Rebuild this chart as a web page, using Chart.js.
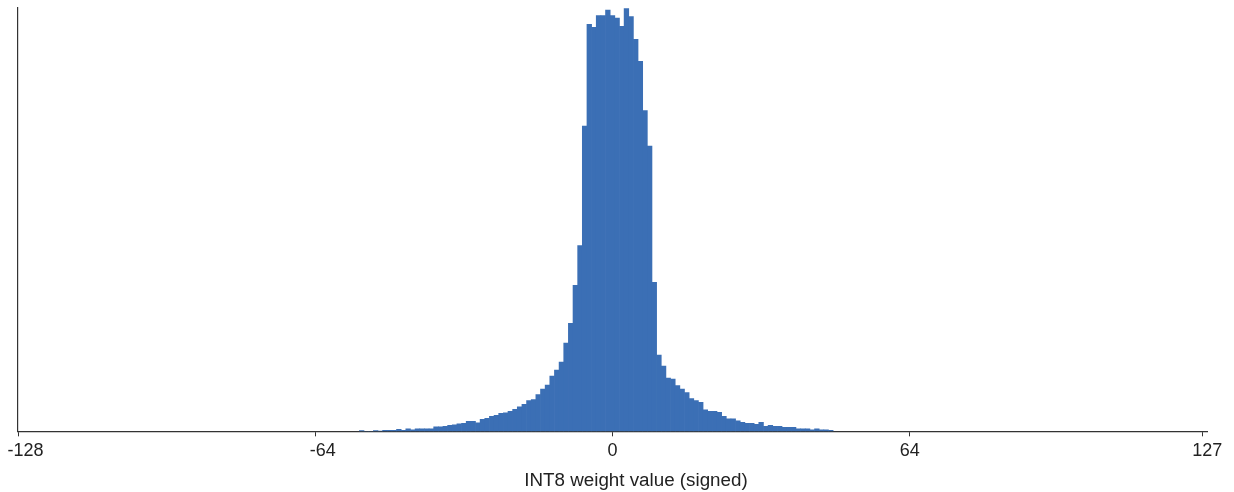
<!DOCTYPE html>
<html>
<head>
<meta charset="utf-8">
<script src="https://cdn.jsdelivr.net/npm/chart.js@4/dist/chart.umd.min.js"></script>
<style>
  html, body { margin: 0; padding: 0; background: #fff; }
  #wrap { width: 1234px; height: 492px; }
</style>
</head>
<body>
<div id="wrap"><canvas id="hist"></canvas></div>
<script>
// histogram of int8 weights, one bin per integer value
const binStart = -54;
const binCounts = [
  0.8, 0, 0, 0.8, 0.3, 1, 1, 1, 2, 1,              // -54 .. -45
  2.5, 1.5, 2.5, 2.5, 2.5, 2.5, 4.5, 4.5, 5, 6,     // -44 .. -35
  6.5, 7.5, 8, 10, 10, 8.5, 12, 13, 15, 16,         // -34 .. -25
  18, 18.5, 20, 22, 24.5, 27, 31, 32, 37, 42.5,     // -24 .. -15
  46.5, 55.5, 61.5, 69.5, 88.5, 108.5, 146.5, 186.5, 306.5, 408.5, // -14 .. -5
  405.5, 417.5, 417.5, 423, 417.5, 415, 406.5, 424.5, 416.5, 393.5, // -4 .. 5
  371.5, 322, 286.5, 149.5, 76.5, 65.5, 53.5, 52.5, 46, 42.5,       // 6 .. 15
  39, 33, 31, 29, 21.5, 20, 20, 19, 15, 12.5,       // 16 .. 25
  12.5, 10.5, 9, 8, 8, 7, 9, 5, 6, 5,               // 26 .. 35
  5, 4, 4, 4, 2.5, 2.5, 2.5, 1.5, 2.5, 1.5,         // 36 .. 45
  1.5, 1                                            // 46 .. 47
];
const tickValues = [-128, -64, 0, 64, 127];
// leading spaces nudge these labels right, like in the original figure
const tickLabels = ['   -128', '   -64', '0', '64', '  127'];
const xTitle = '         INT8 weight value (signed)';

const axisColor = '#333333';
const textColor = '#222222';
const font = 'Liberation Sans, Arial, sans-serif';

const points = binCounts.map((c, i) => ({ x: binStart + i, y: c }));

new Chart(document.getElementById('hist'), {
  type: 'bar',
  data: {
    datasets: [{
      data: points,
      backgroundColor: '#3b6fb5',
      borderWidth: 0,
      barPercentage: 1,
      categoryPercentage: 1
    }]
  },
  options: {
    responsive: true,
    maintainAspectRatio: false,
    animation: false,
    layout: { padding: { left: 18, right: 27, top: 8, bottom: 0 } },
    plugins: { legend: { display: false }, tooltip: { enabled: false } },
    scales: {
      x: {
        type: 'linear',
        offset: false,
        min: -128,
        max: 128,
        afterBuildTicks: s => { s.ticks = tickValues.map(v => ({ value: v })); },
        afterFit: s => { s.paddingLeft = 0; s.paddingRight = 0; },
        grid: { display: true, offset: false, drawOnChartArea: false, drawTicks: true, tickLength: 5, color: axisColor, lineWidth: 1 },
        border: { display: true, color: axisColor, width: 1.2 },
        ticks: {
          autoSkip: false,
          maxRotation: 0,
          padding: 4,
          color: textColor,
          font: { family: font, size: 18 },
          callback: v => tickLabels[tickValues.indexOf(v)]
        },
        title: {
          display: true,
          text: xTitle,
          color: textColor,
          font: { family: font, size: 18.8 },
          padding: { top: 3.5, bottom: 0 }
        }
      },
      y: {
        min: 0,
        max: 425,
        ticks: { display: false },
        grid: { display: false, drawTicks: false, tickLength: 0 },
        border: { display: true, color: axisColor, width: 1.2 }
      }
    }
  }
});
</script>
</body>
</html>
